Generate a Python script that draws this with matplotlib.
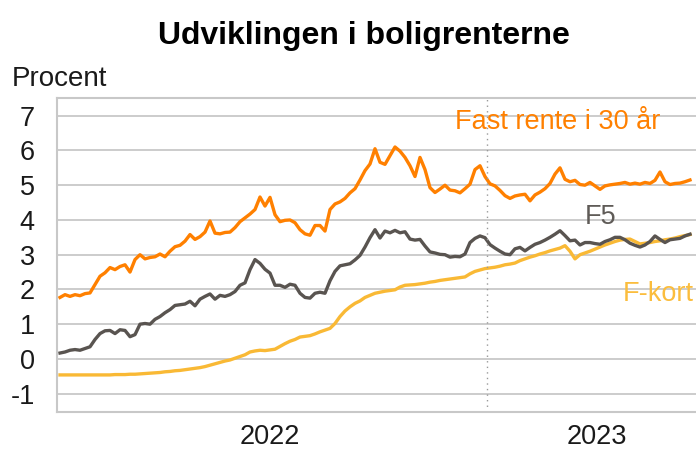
import numpy as np
import matplotlib
matplotlib.use("Agg")
from matplotlib import pyplot as plt

plt.rcParams['font.family'] = ['Liberation Sans', 'DejaVu Sans']
plt.rcParams['axes.unicode_minus'] = False

# time axis in decimal years, roughly every 5.6 days from mid-Nov 2021
t0 = 2021.858
step = 5 / 327
n = 127
t = t0 + np.arange(n) * step

fast_30 = [
    1.77, 1.85, 1.80, 1.85, 1.82, 1.88, 1.90, 2.14, 2.38, 2.48,
    2.63, 2.57, 2.66, 2.71, 2.50, 2.86, 3.00, 2.88, 2.92, 2.94,
    3.02, 2.94, 3.10, 3.23, 3.27, 3.39, 3.58, 3.44, 3.52, 3.65,
    3.97, 3.62, 3.60, 3.64, 3.65, 3.78, 3.95, 4.06, 4.17, 4.30,
    4.66, 4.40, 4.65, 4.15, 3.95, 3.99, 4.00, 3.92, 3.72, 3.60,
    3.56, 3.84, 3.84, 3.68, 4.30, 4.46, 4.52, 4.62, 4.78, 4.90,
    5.15, 5.42, 5.61, 6.05, 5.66, 5.60, 5.85, 6.10, 5.98, 5.80,
    5.56, 5.25, 5.80, 5.45, 4.93, 4.79, 4.89, 5.00, 4.86, 4.84,
    4.78, 4.90, 5.03, 5.45, 5.56, 5.25, 5.04, 4.98, 4.85, 4.70,
    4.62, 4.69, 4.72, 4.74, 4.55, 4.72, 4.80, 4.90, 5.05, 5.32,
    5.50, 5.17, 5.10, 5.14, 5.02, 5.00, 5.08, 4.98, 4.88, 4.98,
    5.01, 5.03, 5.05, 5.08, 5.03, 5.06, 5.03, 5.08, 5.05, 5.14,
    5.38, 5.10, 5.02, 5.05, 5.06, 5.10, 5.15,
]

f5 = [
    0.17, 0.20, 0.25, 0.27, 0.25, 0.30, 0.35, 0.56, 0.73, 0.81,
    0.82, 0.73, 0.84, 0.82, 0.64, 0.70, 1.00, 1.02, 1.00, 1.14,
    1.22, 1.33, 1.42, 1.54, 1.56, 1.58, 1.66, 1.53, 1.72, 1.80,
    1.87, 1.72, 1.83, 1.80, 1.85, 1.94, 2.12, 2.19, 2.57, 2.86,
    2.75, 2.58, 2.47, 2.12, 2.12, 2.06, 2.15, 2.12, 1.89, 1.77,
    1.75, 1.89, 1.92, 1.89, 2.25, 2.52, 2.68, 2.71, 2.74, 2.85,
    2.98, 3.22, 3.49, 3.72, 3.48, 3.68, 3.63, 3.70, 3.63, 3.66,
    3.45, 3.42, 3.44, 3.25, 3.08, 3.05, 3.01, 3.00, 2.93, 2.95,
    2.94, 3.02, 3.35, 3.47, 3.54, 3.49, 3.29, 3.19, 3.10, 3.02,
    3.00, 3.17, 3.21, 3.11, 3.21, 3.30, 3.35, 3.42, 3.50, 3.59,
    3.69, 3.55, 3.40, 3.42, 3.28, 3.35, 3.35, 3.32, 3.30, 3.38,
    3.43, 3.50, 3.50, 3.43, 3.33, 3.27, 3.22, 3.28, 3.38, 3.54,
    3.44, 3.35, 3.43, 3.45, 3.47, 3.54, 3.59,
]

f_kort = [
    -0.46, -0.46, -0.46, -0.46, -0.46, -0.46, -0.46, -0.46, -0.46, -0.46,
    -0.46, -0.45, -0.45, -0.45, -0.44, -0.44, -0.43, -0.42, -0.41, -0.40,
    -0.39, -0.37, -0.36, -0.34, -0.33, -0.31, -0.29, -0.27, -0.25, -0.22,
    -0.18, -0.14, -0.10, -0.06, -0.03, 0.02, 0.07, 0.12, 0.20, 0.23,
    0.25, 0.24, 0.26, 0.28, 0.36, 0.44, 0.51, 0.56, 0.63, 0.65,
    0.67, 0.72, 0.78, 0.83, 0.88, 1.02, 1.22, 1.38, 1.50, 1.60,
    1.67, 1.77, 1.83, 1.89, 1.92, 1.95, 1.97, 1.99, 2.07, 2.12,
    2.13, 2.14, 2.16, 2.18, 2.21, 2.23, 2.26, 2.28, 2.30, 2.32,
    2.34, 2.36, 2.45, 2.52, 2.56, 2.60, 2.62, 2.64, 2.67, 2.71,
    2.73, 2.76, 2.83, 2.88, 2.93, 2.97, 3.02, 3.06, 3.11, 3.15,
    3.19, 3.26, 3.10, 2.88, 3.00, 3.05, 3.10, 3.16, 3.22, 3.28,
    3.33, 3.38, 3.42, 3.44, 3.45, 3.38, 3.31, 3.33, 3.35, 3.38,
    3.40, 3.43, 3.45, 3.48, 3.52, 3.55, 3.58,
]

year_labels = ['2022', '2023']
year_pos = [2022.5, 2023.5]
marker_date = 2023.164

orange = '#ff8000'
grey = '#595450'
yellow = '#f9b935'
grid_c = '#cccccc'

fig = plt.figure(figsize=(6.96, 4.5), dpi=100)
ax = fig.add_axes([0.082, 0.085, 0.918, 0.698])

ax.set_ylim(-1.52, 7.52)
ax.set_xlim(2021.849, 2023.803)
ax.set_yticks(range(-1, 8))
ax.yaxis.grid(True, color=grid_c, lw=1.4)
ax.set_axisbelow(True)

ax.plot(t, f_kort, color=yellow, lw=2.4)
ax.plot(t, f5, color=grey, lw=2.4)
ax.plot(t, fast_30, color=orange, lw=2.4)

ax.axvline(marker_date, color='#999999', lw=1.0, ls=(0, (1, 3)))

ax.set_xticks(year_pos)
ax.set_xticklabels(year_labels)
ax.tick_params(axis='both', length=0, labelsize=19.5, colors='#1a1a1a')
ax.tick_params(axis='y', pad=16)
ax.tick_params(axis='x', pad=9)

for side in ['left', 'top', 'bottom']:
    ax.spines[side].set_color('#c8c8c8')
    ax.spines[side].set_linewidth(1.5)
ax.spines['right'].set_visible(False)

ax.text(2023.066, 6.61, 'Fast rente i 30 år', color=orange, fontsize=19.5,
        ha='left', va='baseline')
ax.text(2023.463, 3.88, 'F5', color='#5f5b57', fontsize=19.5,
        ha='left', va='baseline')
ax.text(2023.579, 1.68, 'F-kort', color='#fbbd3d', fontsize=19.5,
        ha='left', va='baseline')

fig.text(12 / 696, 1 - 86 / 450, 'Procent', fontsize=20, color='#1a1a1a',
         ha='left', va='baseline')
fig.text(364 / 696, 1 - 44 / 450, 'Udviklingen i boligrenterne', fontsize=23,
         fontweight='bold', ha='center', va='baseline')

fig.savefig('out.png', dpi=100)
